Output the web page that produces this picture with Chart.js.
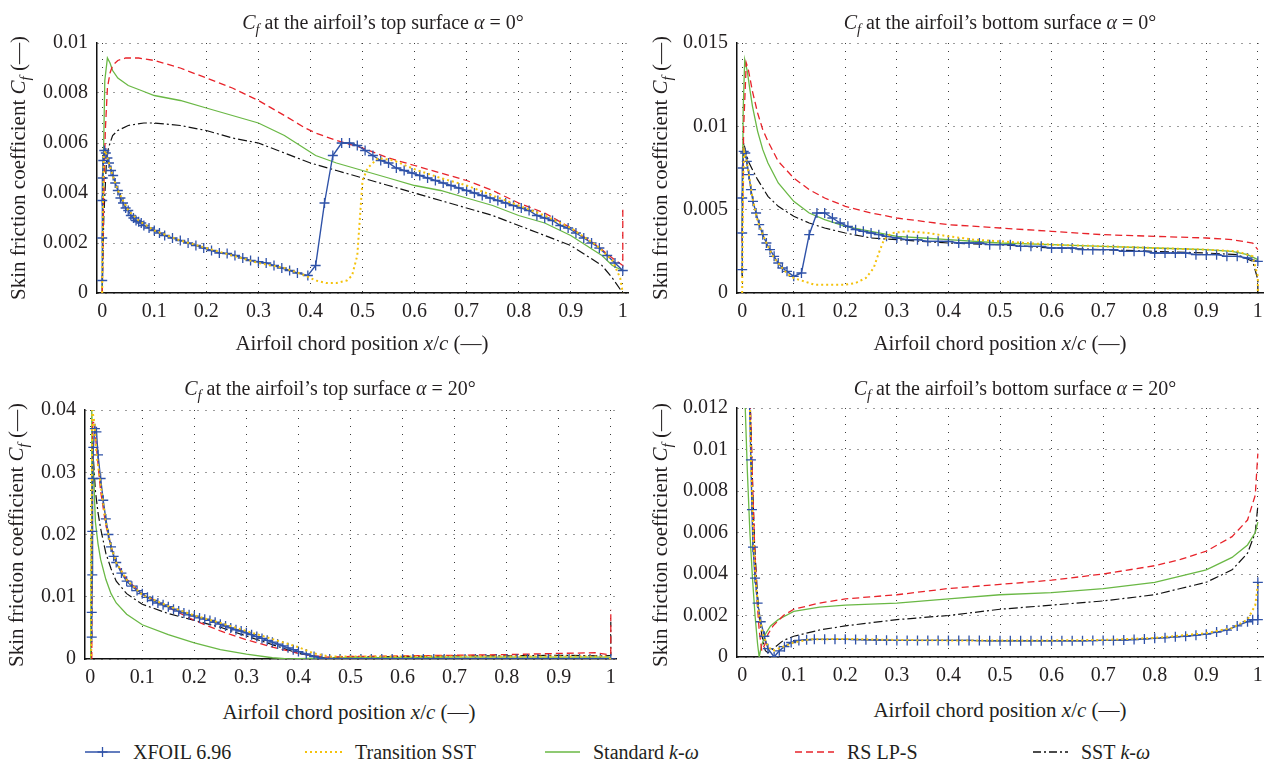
<!DOCTYPE html>
<html>
<head>
<meta charset="utf-8">
<script src="https://cdn.jsdelivr.net/npm/chart.js@4.4.1/dist/chart.umd.min.js"></script>
<style>
  body { margin: 0; width: 1270px; height: 767px; overflow: hidden; background: #fff; position: relative;
         font-family: "Liberation Serif", "DejaVu Serif", serif; color: #231f20; }
  canvas.panel { position: absolute; }
  .lbl { position: absolute; white-space: nowrap; line-height: 1; transform: translate(-50%, -50%); }
  .title { font-size: 20px; }
  .xlab { font-size: 21px; }
  .ylab { font-size: 21px; transform: translate(-50%, -50%) rotate(-90deg); }
  sub { font-size: 0.72em; vertical-align: -0.35em; line-height: 0; }
  .legend { position: absolute; top: 740px; left: 0; width: 1270px; height: 24px; font-size: 20px; }
  .item { position: absolute; top: 0; height: 24px; display: flex; align-items: center; }
  .item svg { margin-right: 13px; }
</style>
</head>
<body>

<canvas class="panel" id="c1" width="611" height="308" style="left:27px;top:19px"></canvas>
<canvas class="panel" id="c2" width="606" height="308" style="left:667px;top:19px"></canvas>
<canvas class="panel" id="c3" width="611" height="307" style="left:15px;top:386px"></canvas>
<canvas class="panel" id="c4" width="606" height="307" style="left:667px;top:384px"></canvas>

<div class="lbl title" style="left:383px;top:22px"><i>C</i><sub><i>f</i></sub> at the airfoil’s top surface <i>α</i> = 0°</div>
<div class="lbl title" style="left:1000px;top:22px"><i>C</i><sub><i>f</i></sub> at the airfoil’s bottom surface <i>α</i> = 0°</div>
<div class="lbl title" style="left:330px;top:388px"><i>C</i><sub><i>f</i></sub> at the airfoil’s top surface <i>α</i> = 20°</div>
<div class="lbl title" style="left:1015px;top:388px"><i>C</i><sub><i>f</i></sub> at the airfoil’s bottom surface <i>α</i> = 20°</div>

<div class="lbl xlab" style="left:362px;top:343px">Airfoil chord position <i>x</i>/<i>c</i> (—)</div>
<div class="lbl xlab" style="left:1000px;top:343px">Airfoil chord position <i>x</i>/<i>c</i> (—)</div>
<div class="lbl xlab" style="left:349px;top:712px">Airfoil chord position <i>x</i>/<i>c</i> (—)</div>
<div class="lbl xlab" style="left:1000px;top:710px">Airfoil chord position <i>x</i>/<i>c</i> (—)</div>

<div class="lbl ylab" style="left:18px;top:168px">Skin friction coefficient <i>C</i><sub><i>f</i></sub> (—)</div>
<div class="lbl ylab" style="left:660px;top:168px">Skin friction coefficient <i>C</i><sub><i>f</i></sub> (—)</div>
<div class="lbl ylab" style="left:16px;top:535px">Skin friction coefficient <i>C</i><sub><i>f</i></sub> (—)</div>
<div class="lbl ylab" style="left:660px;top:535px">Skin friction coefficient <i>C</i><sub><i>f</i></sub> (—)</div>

<div class="legend">
  <div class="item" style="left:85px">
    <svg width="35" height="14"><line x1="0" y1="7" x2="35" y2="7" stroke="#2f52a8" stroke-width="1.5"/><line x1="17.5" y1="2" x2="17.5" y2="12" stroke="#2f52a8" stroke-width="1.3"/><line x1="12.5" y1="7" x2="22.5" y2="7" stroke="#2f52a8" stroke-width="1.3"/></svg>XFOIL 6.96</div>
  <div class="item" style="left:305px">
    <svg width="37" height="14"><line x1="0" y1="7" x2="37" y2="7" stroke="#f4c20d" stroke-width="2" stroke-dasharray="2,3"/></svg>Transition SST</div>
  <div class="item" style="left:545px">
    <svg width="35" height="14"><line x1="0" y1="7" x2="35" y2="7" stroke="#6ab845" stroke-width="1.5"/></svg>Standard&nbsp;<i>k</i>-<i>ω</i></div>
  <div class="item" style="left:795px">
    <svg width="39" height="14"><line x1="0" y1="7" x2="39" y2="7" stroke="#e8232a" stroke-width="1.5" stroke-dasharray="7,4"/></svg>RS LP-S</div>
  <div class="item" style="left:1033px">
    <svg width="35" height="14"><line x1="0" y1="7" x2="35" y2="7" stroke="#111" stroke-width="1.3" stroke-dasharray="8,3,2,3"/></svg>SST&nbsp;<i>k</i>-<i>ω</i></div>
</div>

<script>
// tick positions
const xTicks = [0, 0.1, 0.2, 0.3, 0.4, 0.5, 0.6, 0.7, 0.8, 0.9, 1];
const yTicksTop0 = [0, 0.002, 0.004, 0.006, 0.008, 0.01];
const yTicksBottom0 = [0, 0.005, 0.01, 0.015];
const yTicksTop20 = [0, 0.01, 0.02, 0.03, 0.04];
const yTicksBottom20 = [0, 0.002, 0.004, 0.006, 0.008, 0.01, 0.012];

// ---- top surface, alpha = 0 ----  [x/c, Cf]
const top0_xfoil = [[0,0.0005],[0,0.0022],[0,0.0037],[0.001,0.0046],[0.002,0.0053],[0.004,0.0057],[0.007,0.0056],[0.01,0.0054],[0.013,0.0052],[0.017,0.0049],[0.021,0.0047],[0.025,0.0044],[0.03,0.0041],[0.035,0.0038],[0.04,0.0036],[0.045,0.0034],[0.05,0.0033],[0.055,0.0031],[0.06,0.003],[0.065,0.0029],[0.07,0.00285],[0.075,0.0028],[0.08,0.0027],[0.09,0.0026],[0.1,0.0025],[0.11,0.0024],[0.12,0.0023],[0.135,0.0022],[0.15,0.0021],[0.165,0.002],[0.18,0.0019],[0.195,0.0018],[0.21,0.0017],[0.225,0.0016],[0.24,0.00158],[0.255,0.0015],[0.27,0.0014],[0.285,0.0013],[0.3,0.00125],[0.315,0.0012],[0.33,0.0011],[0.345,0.001],[0.36,0.0009],[0.375,0.0008],[0.395,0.0007],[0.41,0.0011],[0.427,0.0036],[0.443,0.0055],[0.46,0.006],[0.475,0.006],[0.49,0.0059],[0.505,0.0057],[0.52,0.0055],[0.535,0.0053],[0.55,0.0052],[0.565,0.005],[0.58,0.0049],[0.595,0.0048],[0.61,0.0047],[0.625,0.0046],[0.64,0.0045],[0.655,0.0044],[0.67,0.0043],[0.685,0.0042],[0.7,0.0041],[0.715,0.004],[0.73,0.0039],[0.745,0.0038],[0.76,0.0037],[0.775,0.0036],[0.79,0.0035],[0.805,0.0034],[0.82,0.0033],[0.835,0.0031],[0.85,0.003],[0.865,0.0029],[0.88,0.0027],[0.895,0.0026],[0.91,0.0024],[0.925,0.0022],[0.94,0.002],[0.955,0.0018],[0.97,0.0015],[0.985,0.0012],[1,0.0009]];
const top0_trans = [[0,0],[0.001,0.003],[0.003,0.0055],[0.006,0.0057],[0.01,0.0054],[0.02,0.0047],[0.03,0.0041],[0.05,0.0033],[0.07,0.0029],[0.1,0.0025],[0.15,0.0021],[0.2,0.0018],[0.25,0.0015],[0.3,0.0012],[0.35,0.001],[0.39,0.0007],[0.41,0.0005],[0.43,0.0004],[0.45,0.0004],[0.47,0.0005],[0.48,0.0007],[0.49,0.0015],[0.495,0.003],[0.5,0.0045],[0.51,0.005],[0.53,0.0054],[0.56,0.0053],[0.6,0.00495],[0.65,0.0046],[0.7,0.0043],[0.75,0.0039],[0.8,0.0035],[0.85,0.0031],[0.9,0.0026],[0.95,0.0019],[0.98,0.0013],[0.995,0.0006],[1,0]];
const top0_std = [[0,0],[0.002,0.005],[0.005,0.0085],[0.01,0.0094],[0.015,0.0092],[0.02,0.0089],[0.03,0.0086],[0.05,0.0083],[0.075,0.0081],[0.1,0.0079],[0.15,0.0077],[0.2,0.0074],[0.25,0.0071],[0.3,0.0068],[0.35,0.0063],[0.38,0.0059],[0.41,0.0055],[0.45,0.0052],[0.5,0.0049],[0.55,0.0046],[0.6,0.0043],[0.65,0.0041],[0.7,0.0038],[0.75,0.0035],[0.8,0.0031],[0.85,0.0028],[0.9,0.0023],[0.93,0.0019],[0.96,0.0015],[0.98,0.0011],[1,0.0009]];
const top0_rs = [[0,0],[0.003,0.004],[0.006,0.0065],[0.01,0.0082],[0.015,0.0088],[0.02,0.0091],[0.03,0.0093],[0.045,0.0094],[0.07,0.0094],[0.1,0.0093],[0.15,0.009],[0.2,0.0086],[0.25,0.0082],[0.3,0.0077],[0.35,0.0071],[0.39,0.0066],[0.41,0.0064],[0.45,0.0061],[0.5,0.0058],[0.55,0.0054],[0.6,0.0051],[0.65,0.0048],[0.7,0.0045],[0.75,0.0041],[0.8,0.0036],[0.85,0.0032],[0.9,0.0026],[0.95,0.0019],[0.98,0.0014],[1,0.0011],[1,0.0034]];
const top0_sst = [[0,0],[0.003,0.003],[0.008,0.0052],[0.012,0.0058],[0.02,0.0063],[0.03,0.0065],[0.05,0.0067],[0.08,0.0068],[0.1,0.0068],[0.15,0.0067],[0.2,0.0065],[0.25,0.0062],[0.3,0.006],[0.35,0.0056],[0.4,0.0052],[0.45,0.0049],[0.5,0.0046],[0.55,0.0043],[0.6,0.004],[0.65,0.0037],[0.7,0.0034],[0.75,0.0031],[0.8,0.0027],[0.85,0.0023],[0.9,0.0019],[0.93,0.0015],[0.96,0.0011],[0.98,0.0006],[1,0]];

// ---- bottom surface, alpha = 0 ----
const bot0_xfoil = [[0,0.0014],[0,0.0036],[0,0.0057],[0.001,0.0075],[0.003,0.0085],[0.006,0.0084],[0.009,0.0079],[0.013,0.0071],[0.017,0.0062],[0.021,0.0055],[0.027,0.0048],[0.033,0.0041],[0.04,0.0035],[0.047,0.003],[0.054,0.0026],[0.062,0.0022],[0.07,0.0018],[0.078,0.0015],[0.087,0.0013],[0.1,0.001],[0.115,0.0012],[0.13,0.0035],[0.145,0.0048],[0.16,0.0048],[0.175,0.0045],[0.19,0.0042],[0.205,0.004],[0.22,0.0038],[0.235,0.0037],[0.25,0.0036],[0.265,0.0035],[0.28,0.0034],[0.3,0.0033],[0.32,0.0032],[0.34,0.0032],[0.36,0.0031],[0.38,0.0031],[0.4,0.0031],[0.42,0.003],[0.44,0.003],[0.46,0.003],[0.48,0.0029],[0.5,0.0029],[0.52,0.0029],[0.54,0.0028],[0.56,0.0028],[0.58,0.0028],[0.6,0.0027],[0.62,0.0027],[0.64,0.0027],[0.66,0.0026],[0.68,0.0026],[0.7,0.0026],[0.72,0.0026],[0.74,0.0025],[0.76,0.0025],[0.78,0.0025],[0.8,0.0024],[0.82,0.0024],[0.84,0.0024],[0.86,0.0024],[0.88,0.0023],[0.9,0.0023],[0.92,0.0023],[0.94,0.0022],[0.96,0.0022],[0.98,0.0021],[1,0.0019]];
const bot0_trans = [[0,0],[0.001,0.004],[0.002,0.007],[0.004,0.0085],[0.008,0.008],[0.013,0.0071],[0.02,0.0057],[0.03,0.0043],[0.04,0.0035],[0.05,0.0028],[0.06,0.0022],[0.07,0.0018],[0.08,0.0014],[0.09,0.0011],[0.1,0.0009],[0.12,0.0007],[0.14,0.0005],[0.17,0.0005],[0.2,0.0005],[0.22,0.0006],[0.24,0.0009],[0.255,0.0015],[0.265,0.0024],[0.275,0.0032],[0.29,0.0036],[0.32,0.0037],[0.36,0.0036],[0.4,0.0034],[0.45,0.0032],[0.5,0.0031],[0.6,0.0029],[0.7,0.0028],[0.8,0.0027],[0.9,0.0026],[0.96,0.0025],[0.99,0.0022],[1,0.001],[1,0]];
const bot0_std = [[0,0.004],[0.002,0.011],[0.005,0.014],[0.01,0.0133],[0.015,0.0122],[0.02,0.0112],[0.03,0.0097],[0.04,0.0086],[0.05,0.0078],[0.07,0.0066],[0.1,0.0055],[0.13,0.0048],[0.16,0.0044],[0.2,0.004],[0.25,0.0037],[0.3,0.0034],[0.35,0.0033],[0.4,0.0032],[0.5,0.003],[0.6,0.0029],[0.7,0.0028],[0.8,0.0027],[0.9,0.0026],[0.95,0.0025],[0.98,0.0023],[1,0.002]];
const bot0_rs = [[0,0.003],[0.003,0.01],[0.008,0.0138],[0.012,0.0134],[0.02,0.0121],[0.03,0.0108],[0.04,0.0098],[0.05,0.0091],[0.07,0.0079],[0.1,0.0069],[0.13,0.0062],[0.16,0.0057],[0.2,0.0052],[0.25,0.0048],[0.3,0.0045],[0.35,0.0043],[0.4,0.0041],[0.5,0.0039],[0.6,0.0037],[0.7,0.0035],[0.8,0.0034],[0.9,0.0033],[0.95,0.0032],[0.99,0.003],[1,0.0026]];
const bot0_sst = [[0,0.001],[0.001,0.006],[0.003,0.009],[0.007,0.0085],[0.012,0.0079],[0.02,0.0074],[0.03,0.0068],[0.04,0.0063],[0.05,0.0058],[0.07,0.0052],[0.1,0.0046],[0.13,0.0042],[0.16,0.0039],[0.2,0.0036],[0.25,0.0033],[0.3,0.0032],[0.4,0.003],[0.5,0.0029],[0.6,0.0027],[0.7,0.0026],[0.8,0.0025],[0.9,0.0024],[0.96,0.0023],[0.99,0.0019],[1,0.0008],[1,0]];

// ---- top surface, alpha = 20 ----
const top20_xfoil = [[0.003,0.0035],[0.003,0.0075],[0.004,0.0135],[0.004,0.0205],[0.005,0.029],[0.006,0.034],[0.009,0.037],[0.012,0.0365],[0.015,0.0328],[0.02,0.029],[0.025,0.0255],[0.03,0.0225],[0.035,0.02],[0.04,0.018],[0.045,0.0165],[0.05,0.0155],[0.06,0.0138],[0.07,0.0125],[0.08,0.0117],[0.09,0.011],[0.1,0.0105],[0.11,0.0099],[0.12,0.0094],[0.13,0.009],[0.14,0.0087],[0.15,0.0084],[0.16,0.008],[0.17,0.0077],[0.18,0.0074],[0.19,0.0071],[0.2,0.0069],[0.21,0.0066],[0.22,0.0064],[0.23,0.0062],[0.24,0.0059],[0.25,0.0056],[0.26,0.0053],[0.27,0.005],[0.28,0.0047],[0.29,0.0045],[0.3,0.0042],[0.31,0.0039],[0.32,0.0036],[0.33,0.0033],[0.34,0.003],[0.35,0.0027],[0.36,0.0024],[0.37,0.0021],[0.38,0.0018],[0.39,0.0015],[0.4,0.0012],[0.415,0.0008],[0.43,0.0004],[0.445,0.0001],[0.46,0],[0.48,0],[0.5,0],[0.52,0],[0.54,0],[0.56,0],[0.58,0],[0.6,0],[0.62,0],[0.64,0],[0.66,0],[0.68,0],[0.7,0],[0.72,0],[0.74,0],[0.76,0],[0.78,0],[0.8,0],[0.82,0],[0.84,0],[0.86,0],[0.88,0],[0.9,0],[0.92,0],[0.94,0],[0.96,0],[0.98,0],[1,0]];
const top20_trans = [[0.002,0.0005],[0.002,0.01],[0.003,0.025],[0.004,0.04],[0.008,0.038],[0.012,0.033],[0.02,0.028],[0.03,0.022],[0.04,0.018],[0.05,0.0155],[0.07,0.0127],[0.1,0.0103],[0.15,0.0085],[0.2,0.007],[0.25,0.0058],[0.3,0.0045],[0.35,0.0032],[0.4,0.0019],[0.43,0.0009],[0.46,0.0004],[0.5,0.0004],[0.6,0.0004],[0.7,0.0004],[0.8,0.0004],[0.9,0.0004],[0.99,0.0004],[1,0]];
const top20_std = [[0.001,0],[0.002,0.02],[0.003,0.04],[0.006,0.031],[0.01,0.022],[0.015,0.0185],[0.02,0.016],[0.03,0.0128],[0.04,0.0105],[0.05,0.009],[0.07,0.0072],[0.1,0.0055],[0.15,0.0039],[0.2,0.0026],[0.25,0.0015],[0.3,0.0008],[0.35,0.0002],[0.38,0],[0.42,0.0001],[0.5,0.0002],[0.6,0.0002],[0.7,0.0003],[0.8,0.0003],[0.9,0.0003],[1,0.0003]];
const top20_rs = [[0.003,0],[0.004,0.02],[0.005,0.038],[0.008,0.038],[0.012,0.034],[0.02,0.027],[0.03,0.0215],[0.04,0.018],[0.05,0.0155],[0.07,0.0128],[0.1,0.0104],[0.15,0.0083],[0.2,0.0062],[0.25,0.0045],[0.3,0.0031],[0.35,0.0019],[0.4,0.0009],[0.45,0.0003],[0.5,0.0004],[0.6,0.0005],[0.7,0.0006],[0.8,0.0007],[0.9,0.0009],[0.97,0.001],[0.995,0.0007],[1,0.0008],[1,0.0079]];
const top20_sst = [[0.002,0],[0.003,0.02],[0.004,0.035],[0.007,0.031],[0.01,0.027],[0.015,0.0235],[0.02,0.021],[0.03,0.017],[0.04,0.0145],[0.05,0.0125],[0.07,0.0105],[0.1,0.0088],[0.15,0.0073],[0.2,0.0062],[0.25,0.0051],[0.3,0.0037],[0.35,0.0023],[0.4,0.0009],[0.45,0.0002],[0.5,0.0003],[0.6,0.0004],[0.7,0.0005],[0.8,0.0005],[0.9,0.0006],[0.99,0.0005],[1,0.0006],[1,0.006]];

// ---- bottom surface, alpha = 20 ----
const bot20_xfoil = [[0.012,0.016],[0.014,0.0125],[0.017,0.0095],[0.019,0.0071],[0.021,0.0053],[0.025,0.0038],[0.03,0.0026],[0.036,0.0017],[0.043,0.001],[0.05,0.0004],[0.062,0],[0.072,0.0003],[0.082,0.0005],[0.095,0.0007],[0.11,0.0008],[0.125,0.00083],[0.14,0.00085],[0.16,0.00085],[0.18,0.00085],[0.2,0.00085],[0.22,0.00084],[0.24,0.00083],[0.26,0.00082],[0.28,0.00081],[0.3,0.0008],[0.32,0.0008],[0.34,0.0008],[0.36,0.0008],[0.38,0.0008],[0.4,0.0008],[0.42,0.0008],[0.44,0.0008],[0.46,0.00079],[0.48,0.00078],[0.5,0.00078],[0.52,0.00078],[0.54,0.00078],[0.56,0.00078],[0.58,0.00078],[0.6,0.00078],[0.62,0.00078],[0.64,0.00078],[0.66,0.00078],[0.68,0.00079],[0.7,0.0008],[0.72,0.0008],[0.74,0.00082],[0.76,0.00084],[0.78,0.00087],[0.8,0.0009],[0.82,0.00093],[0.84,0.00097],[0.86,0.001],[0.88,0.00105],[0.9,0.0011],[0.92,0.0012],[0.94,0.0013],[0.96,0.0015],[0.98,0.0017],[0.99,0.0018],[1,0.0018],[1,0.0036]];
const bot20_trans = [[0.012,0.016],[0.017,0.0095],[0.022,0.0055],[0.027,0.0034],[0.033,0.002],[0.04,0.0011],[0.05,0.0005],[0.06,0.0003],[0.07,0.0004],[0.08,0.0005],[0.1,0.0007],[0.13,0.00085],[0.2,0.00087],[0.3,0.00082],[0.4,0.0008],[0.5,0.0008],[0.6,0.0008],[0.7,0.00082],[0.8,0.00092],[0.9,0.00115],[0.95,0.0014],[0.98,0.0018],[0.995,0.0025],[1,0.0035]];
const bot20_std = [[0.004,0.016],[0.006,0.012],[0.01,0.009],[0.015,0.006],[0.02,0.0038],[0.025,0.002],[0.03,0.0006],[0.033,0],[0.037,0.0005],[0.045,0.0011],[0.055,0.0015],[0.07,0.0018],[0.085,0.002],[0.1,0.0022],[0.15,0.0024],[0.2,0.0025],[0.3,0.0026],[0.4,0.0028],[0.5,0.003],[0.6,0.0031],[0.7,0.0033],[0.8,0.0036],[0.85,0.0039],[0.9,0.0042],[0.95,0.0048],[0.98,0.0054],[0.995,0.006],[1,0.0065]];
const bot20_rs = [[0.012,0.016],[0.016,0.012],[0.02,0.0085],[0.024,0.0055],[0.028,0.003],[0.033,0.0013],[0.038,0.0003],[0.044,0.0006],[0.05,0.0011],[0.06,0.0015],[0.08,0.002],[0.1,0.0023],[0.15,0.0026],[0.2,0.0028],[0.3,0.003],[0.4,0.0033],[0.5,0.0035],[0.6,0.0037],[0.7,0.004],[0.8,0.0044],[0.85,0.0047],[0.9,0.0051],[0.95,0.0058],[0.98,0.0066],[0.995,0.0078],[1,0.0098]];
const bot20_sst = [[0.012,0.016],[0.016,0.012],[0.02,0.0085],[0.024,0.0055],[0.029,0.0033],[0.034,0.0017],[0.04,0.0008],[0.045,0.0003],[0.05,0.0002],[0.055,0.0003],[0.065,0.0005],[0.08,0.0008],[0.1,0.001],[0.15,0.0013],[0.2,0.0015],[0.3,0.0018],[0.4,0.002],[0.5,0.0023],[0.6,0.0025],[0.7,0.0027],[0.8,0.003],[0.85,0.0033],[0.9,0.0036],[0.95,0.0042],[0.98,0.005],[0.995,0.006],[1,0.0073]];

// line styles per model (drawing order: first one is on top)
const models = [
  { key: 'trans', label: 'Transition SST', color: '#f4c20d', width: 2, dash: [2, 3] },
  { key: 'xfoil', label: 'XFOIL 6.96', color: '#2f52a8', width: 1.4, dash: [], marker: true },
  { key: 'rs', label: 'RS LP-S', color: '#e8232a', width: 1.3, dash: [7, 4] },
  { key: 'std', label: 'Standard k-ω', color: '#6ab845', width: 1.3, dash: [] },
  { key: 'sst', label: 'SST k-ω', color: '#111111', width: 1.2, dash: [9, 3, 2, 3] }
];

const tickFont = { family: 'Liberation Serif', size: 20 };
const fmt = v => String(Math.round(v * 1e6) / 1e6);

function makePanel(id, data, yMax, yTicks) {
  const datasets = models.map(m => ({
    label: m.label,
    data: data[m.key],
    borderColor: m.color,
    backgroundColor: m.color,
    borderWidth: m.width,
    borderDash: m.dash,
    pointStyle: 'cross',
    pointRadius: m.marker ? 5 : 0,
    pointBorderWidth: 1.3,
    fill: false,
    tension: 0
  }));

  new Chart(document.getElementById(id), {
    type: 'line',
    data: { datasets: datasets },
    options: {
      responsive: false,
      animation: false,
      events: [],
      layout: { padding: { top: 24, right: 10, left: 0, bottom: 0 } },
      plugins: { legend: { display: false }, tooltip: { enabled: false } },
      scales: {
        x: {
          type: 'linear', min: -0.01, max: 1.01,
          afterBuildTicks: s => { s.ticks = xTicks.map(v => ({ value: v })); },
          afterFit: s => { s.height = 34; },
          grid: { color: '#3a3a3a', lineWidth: 1, drawTicks: false },
          border: { display: true, color: '#111', width: 1.5, dash: [1, 7] },
          ticks: { padding: 7, color: '#231f20', font: tickFont, autoSkip: false, maxRotation: 0, callback: fmt }
        },
        y: {
          type: 'linear', min: 0, max: yMax,
          afterBuildTicks: s => { s.ticks = yTicks.map(v => ({ value: v })); },
          afterFit: s => { s.width = 70; },
          grid: { color: '#3a3a3a', lineWidth: 1, drawTicks: false },
          border: { display: true, color: '#111', width: 1.5, dash: [1, 7] },
          ticks: { padding: 9, color: '#231f20', font: tickFont, autoSkip: false, callback: fmt }
        }
      }
    }
  });
}

makePanel('c1', { xfoil: top0_xfoil, trans: top0_trans, std: top0_std, rs: top0_rs, sst: top0_sst }, 0.01, yTicksTop0);
makePanel('c2', { xfoil: bot0_xfoil, trans: bot0_trans, std: bot0_std, rs: bot0_rs, sst: bot0_sst }, 0.015, yTicksBottom0);
makePanel('c3', { xfoil: top20_xfoil, trans: top20_trans, std: top20_std, rs: top20_rs, sst: top20_sst }, 0.04, yTicksTop20);
makePanel('c4', { xfoil: bot20_xfoil, trans: bot20_trans, std: bot20_std, rs: bot20_rs, sst: bot20_sst }, 0.012, yTicksBottom20);
</script>
</body>
</html>
